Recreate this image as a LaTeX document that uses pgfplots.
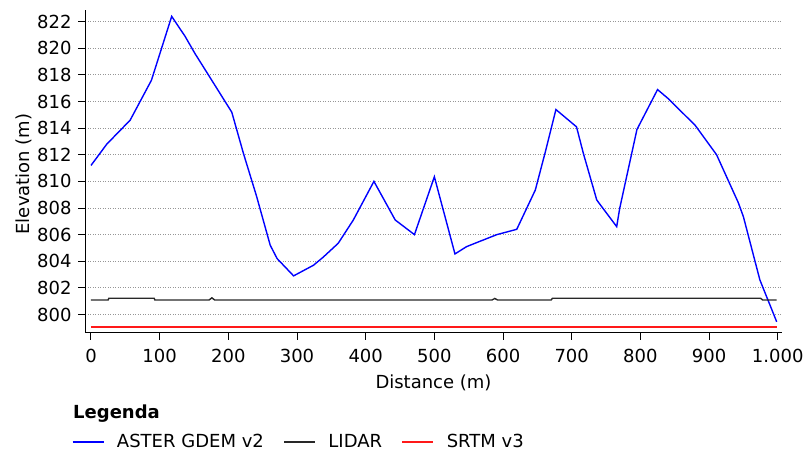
\documentclass[border=0pt]{standalone}
\usepackage{pgfplots}
\pgfplotsset{compat=1.18}
\usepackage{pgfplotstable}
\usepackage{fontspec}
\setmainfont{DejaVu Sans}
\definecolor{asterblue}{RGB}{0,0,255}
\definecolor{lidargray}{RGB}{40,40,40}
\definecolor{srtmred}{RGB}{255,25,25}
\definecolor{gridgray}{RGB}{150,150,150}

\pgfplotstableread{
x y
0 811.2
23 812.8
57 814.6
88 817.6
117.5 822.4
137 820.9
151.5 819.6
171 818.0
205 815.2
222 812.1
241 808.9
261 805.2
271 804.2
295 802.9
324 803.7
338 804.3
360 805.35
382 807.1
412 810.0
443 807.1
471 806.0
500 810.35
530 804.55
547 805.1
566.5 805.5
591 806.0
620 806.4
647 809.35
661 812.1
677 815.4
707 814.1
717 812.1
736.5 808.6
765.5 806.6
770 808.0
795 813.9
825 816.9
841 816.2
880 814.2
911 812.0
942.6 808.4
950 807.35
974 802.6
998.5 799.45
}\aster

\pgfplotstableread{
x y
0 801.09
25 801.09
26 801.22
92 801.22
93 801.09
172 801.09
176 801.25
180 801.09
584 801.09
588 801.2
592 801.09
670 801.09
672 801.22
975 801.22
978 801.09
998.5 801.09
}\lidar

\pgfplotstableread{
x y
0 799.04
998.5 799.04
}\srtm

\begin{document}
\begin{tikzpicture}[font=\fontsize{18bp}{21.6bp}\selectfont]
\useasboundingbox (0,0) rectangle (803bp,452bp);
\begin{axis}[
  at={(85.3bp,119.3bp)}, anchor=south west,
  scale only axis, width=696.4bp, height=322.7bp,
  xmin=-8.3, xmax=1005.8, ymin=798.63, ymax=822.88,
  axis lines*=left,
  axis line style={black, line width=1.5bp},
  xtick={0,100,...,1000}, ytick={800,802,...,822},
  tick align=outside, major tick length=7bp,
  tick style={black, line width=1bp},
  ymajorgrids,
  grid style={gridgray, line width=0.9bp, dash pattern=on 0.9bp off 1.6bp},
  /pgf/number format/1000 sep={.},
  /pgf/number format/assume math mode=true,
  xticklabel style={inner sep=0pt, anchor=north, yshift=-9.6bp},
  yticklabel style={inner sep=0pt, anchor=east, xshift=-6.6bp},
  xlabel={Distance (m)},
  ylabel={Elevation (m)},
  xlabel style={at={([yshift=-55.6bp]rel axis cs:0.5,0)}, anchor=base, inner sep=0pt},
  ylabel style={at={([xshift=-55.3bp]rel axis cs:0,0.4918)}, anchor=base, inner sep=0pt},
  legend columns=3,
  legend style={draw=none, fill=none, at={(-0.01953,-0.3378)}, anchor=west,
    inner xsep=0pt, inner ysep=0pt, nodes={inner sep=0pt},
    /tikz/every odd column/.append style={column sep=12.5bp},
    /tikz/every even column/.append style={column sep=19.5bp}},
  legend image code/.code={\draw[#1] (0bp,0bp) -- (31bp,0bp);},
]
\addlegendimage{asterblue, line width=1.6bp}
\addlegendentry{ASTER GDEM v2}
\addlegendimage{lidargray, line width=1.6bp}
\addlegendentry{LIDAR}
\addlegendimage{srtmred, line width=1.6bp}
\addlegendentry{SRTM v3}
\addplot[asterblue, line width=1.4bp, forget plot] table[x=x,y=y] {\aster};
\addplot[lidargray, line width=1.4bp, forget plot] table[x=x,y=y] {\lidar};
\addplot[srtmred, line width=1.8bp, forget plot] table[x=x,y=y] {\srtm};
\end{axis}
\node[anchor=base west, inner sep=0pt, font=\fontsize{18bp}{21.6bp}\selectfont\bfseries] at (73bp,33.7bp) {Legenda};
\end{tikzpicture}
\end{document}
